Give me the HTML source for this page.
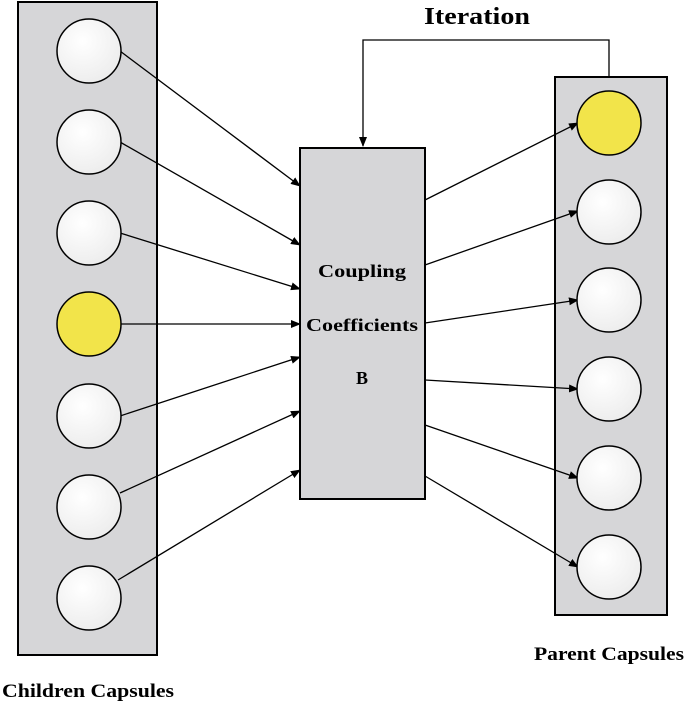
<!DOCTYPE html>
<html><head><meta charset="utf-8"><style>html,body{margin:0;padding:0;background:#fff}svg{display:block}</style></head>
<body>
<svg width="685" height="703" viewBox="0 0 685 703" xmlns="http://www.w3.org/2000/svg">
<defs>
<marker id="a" markerWidth="10" markerHeight="8" refX="9" refY="4" orient="auto" markerUnits="userSpaceOnUse"><path d="M0,0 L10,4 L0,8 Z" fill="#000"/></marker>
<radialGradient id="w" cx="0.4" cy="0.35" r="0.7"><stop offset="0" stop-color="#ffffff"/><stop offset="1" stop-color="#ececec"/></radialGradient>
</defs>
<g font-family="Liberation Serif, serif" font-weight="bold" fill="#000">
<text x="477" y="24" text-anchor="middle" font-size="24" textLength="106" lengthAdjust="spacingAndGlyphs">Iteration</text>
<text x="534" y="660" font-size="19" textLength="150" lengthAdjust="spacingAndGlyphs">Parent Capsules</text>
<text x="2" y="697" font-size="19" textLength="172" lengthAdjust="spacingAndGlyphs">Children Capsules</text>
</g>
<rect x="18" y="2" width="139" height="653" fill="#d6d6d8" stroke="#000" stroke-width="2"/>
<rect x="555" y="77" width="112" height="538" fill="#d6d6d8" stroke="#000" stroke-width="2"/>
<rect x="300" y="148" width="125" height="351" fill="#d6d6d8" stroke="#000" stroke-width="2"/>
<g font-family="Liberation Serif, serif" font-weight="bold" font-size="18" text-anchor="middle">
<text x="362" y="277" textLength="88" lengthAdjust="spacingAndGlyphs">Coupling</text>
<text x="362" y="331" textLength="112" lengthAdjust="spacingAndGlyphs">Coefficients</text>
<text x="362" y="384">B</text>
</g>
<g stroke="#000" stroke-width="1.3" fill="none">
<polyline points="609,77 609,40 363,40 363,146" marker-end="url(#a)"/>
<line x1="120" y1="51" x2="300" y2="186" marker-end="url(#a)"/>
<line x1="120" y1="142" x2="300" y2="245" marker-end="url(#a)"/>
<line x1="120" y1="233" x2="300" y2="289" marker-end="url(#a)"/>
<line x1="120" y1="324" x2="300" y2="324" marker-end="url(#a)"/>
<line x1="120" y1="416" x2="300" y2="357" marker-end="url(#a)"/>
<line x1="120" y1="493" x2="300" y2="411" marker-end="url(#a)"/>
<line x1="118" y1="580" x2="300" y2="470" marker-end="url(#a)"/>
<line x1="425" y1="200" x2="578" y2="123" marker-end="url(#a)"/>
<line x1="425" y1="265" x2="578" y2="211" marker-end="url(#a)"/>
<line x1="425" y1="323" x2="578" y2="300" marker-end="url(#a)"/>
<line x1="425" y1="380" x2="578" y2="389" marker-end="url(#a)"/>
<line x1="425" y1="425" x2="578" y2="478" marker-end="url(#a)"/>
<line x1="425" y1="476" x2="578" y2="567" marker-end="url(#a)"/>
</g>
<g stroke="#000" stroke-width="1.5">
<ellipse cx="89" cy="51" rx="32" ry="32" fill="url(#w)"/>
<ellipse cx="89" cy="142" rx="32" ry="32" fill="url(#w)"/>
<ellipse cx="89" cy="233" rx="32" ry="32" fill="url(#w)"/>
<ellipse cx="89" cy="324" rx="32" ry="32" fill="#f2e44a"/>
<ellipse cx="89" cy="416" rx="32" ry="32" fill="url(#w)"/>
<ellipse cx="89" cy="507" rx="32" ry="32" fill="url(#w)"/>
<ellipse cx="89" cy="598" rx="32" ry="32" fill="url(#w)"/>
<ellipse cx="609" cy="123" rx="32" ry="32" fill="#f2e44a"/>
<ellipse cx="609" cy="212" rx="32" ry="32" fill="url(#w)"/>
<ellipse cx="609" cy="300" rx="32" ry="32" fill="url(#w)"/>
<ellipse cx="609" cy="389" rx="32" ry="32" fill="url(#w)"/>
<ellipse cx="609" cy="478" rx="32" ry="32" fill="url(#w)"/>
<ellipse cx="609" cy="567" rx="32" ry="32" fill="url(#w)"/>
</g>
</svg>
</body></html>
